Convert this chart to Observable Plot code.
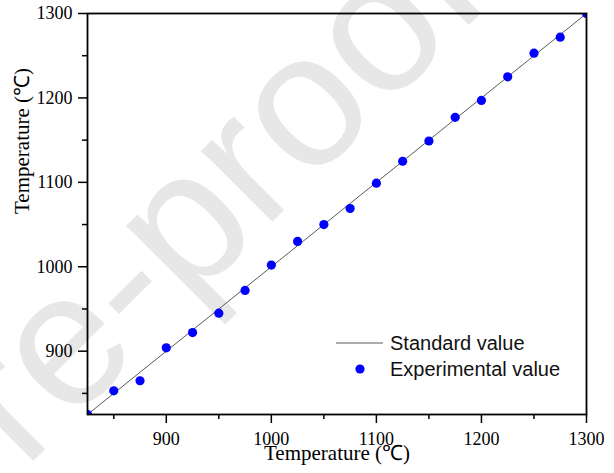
<!DOCTYPE html>
<html><head><meta charset="utf-8">
<script src="https://cdn.jsdelivr.net/npm/d3@7"></script>
<script src="https://cdn.jsdelivr.net/npm/@observablehq/plot@0.6"></script>
<style>
body{margin:0;background:#fff;}
#wrap{position:relative;width:614px;height:473px;overflow:hidden;background:#fff;}
</style></head><body><div id="wrap"></div>
<script>
// Data
const standardTemps = [825, 1300];
const setTemps = [825, 850, 875, 900, 925, 950, 975, 1000, 1025, 1050, 1075, 1100, 1125, 1150, 1175, 1200, 1225, 1250, 1275, 1300];
const measuredTemps = [825, 853, 865, 904, 922, 945, 972, 1002, 1030, 1050, 1069, 1099, 1125, 1149, 1177, 1197, 1225, 1253, 1272, 1300];
const majorTicks = [900, 1000, 1100, 1200, 1300];
const minorTicks = [850, 950, 1050, 1150, 1250];
const axisTitle = "Temperature (℃)";
const legendLabels = ["Standard value", "Experimental value"];
const watermark = "re-proof";

const standard = standardTemps.map(t => ({t}));
const experimental = setTemps.map((s, i) => ({set: s, measured: measuredTemps[i]}));

const serif = "'Liberation Serif', 'Times New Roman', serif";
const fmt = d => String(d);

const plot = Plot.plot({
  width: 614, height: 473,
  marginLeft: 87, marginRight: 28, marginTop: 13, marginBottom: 59,
  x: {domain: [825, 1300]},
  y: {domain: [825, 1300]},
  style: {background: "transparent", fontFamily: serif, fontSize: "18px", color: "#000"},
  marks: [
    Plot.line(standard, {x: "t", y: "t", stroke: "#5a5a5a", strokeWidth: 1}),
    Plot.dot(experimental, {x: "set", y: "measured", r: 4.6, fill: "#0000ff", clip: true}),
    Plot.axisX({ticks: majorTicks, tickFormat: fmt, tickSize: 9, tickPadding: 9, label: null, fontSize: 18, strokeWidth: 1.5}),
    Plot.axisX({ticks: minorTicks, tickSize: 5, text: null, label: null, strokeWidth: 1.5}),
    Plot.axisY({ticks: majorTicks, tickFormat: fmt, tickSize: 9, tickPadding: 6, label: null, fontSize: 18, strokeWidth: 1.5}),
    Plot.axisY({ticks: minorTicks, tickSize: 5, text: null, label: null, strokeWidth: 1.5}),
    Plot.text([axisTitle], {frameAnchor: "bottom", dy: 45, fontSize: 21, fontFamily: serif, fill: "#000"}),
    Plot.text([axisTitle], {frameAnchor: "left", dx: -65, rotate: -90, fontSize: 21, fontFamily: serif, fill: "#000"}),
    Plot.frame({stroke: "#000", strokeWidth: 1.8})
  ]
});

const svg = d3.select(plot);
// watermark behind everything
svg.insert("text", ":first-child")
  .attr("transform", "translate(24,470) rotate(-45)")
  .attr("text-anchor", "start")
  .attr("font-family", "'Liberation Sans', Arial, sans-serif")
  .attr("font-size", 190)
  .attr("fill", "#e7e7e7")
  .text(watermark);

// legend
const lg = svg.append("g").attr("font-family", "'Liberation Sans', Arial, sans-serif").attr("font-size", 20).attr("fill", "#111").attr("text-anchor", "start");
lg.append("line").attr("x1", 336).attr("x2", 383).attr("y1", 343).attr("y2", 343).attr("stroke", "#5a5a5a").attr("stroke-width", 1);
lg.append("circle").attr("cx", 360).attr("cy", 369).attr("r", 4.6).attr("fill", "#0000ff");
lg.append("text").attr("x", 390).attr("y", 343).attr("dy", "0.35em").text(legendLabels[0]);
lg.append("text").attr("x", 390).attr("y", 369).attr("dy", "0.35em").text(legendLabels[1]);

document.getElementById("wrap").appendChild(plot);
</script>
</body></html>
